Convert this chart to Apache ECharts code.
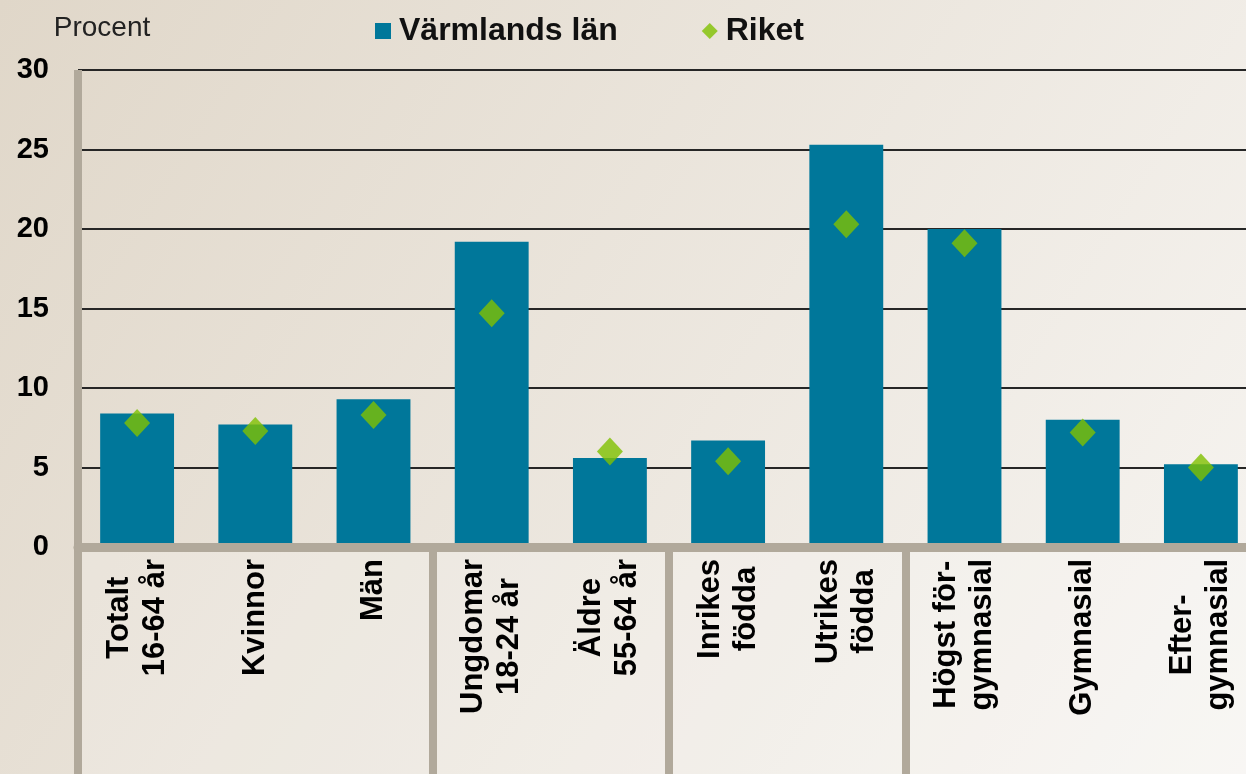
<!DOCTYPE html>
<html>
<head>
<meta charset="utf-8">
<script src="https://cdn.jsdelivr.net/npm/echarts@6/dist/echarts.min.js"></script>
<style>
html, body { margin: 0; padding: 0; }
#chart { width: 1246px; height: 774px; }
</style>
</head>
<body>
<div id="chart"></div>
<script>
// kategorier (radbrytning = två rader i etiketten)
var categories = ['Totalt\n16-64 år', 'Kvinnor', 'Män', 'Ungdomar\n18-24 år', 'Äldre\n55-64 år',
    'Inrikes\nfödda', 'Utrikes\nfödda', 'Högst för-\ngymnasial', 'Gymnasial', 'Efter-\ngymnasial'];
var varmland = [8.4, 7.7, 9.3, 19.2, 5.6, 6.7, 25.3, 20.0, 8.0, 5.2];
var riket = [7.8, 7.3, 8.3, 14.7, 6.0, 5.4, 20.3, 19.1, 7.2, 5.0];
var yTicks = [0, 5, 10, 15, 20, 25, 30];
var groupStarts = [3, 5, 7]; // avdelare mellan grupperna

var FONT = 'Liberation Sans, Arial, sans-serif';
var GREY = '#b1a99b';

var myChart = echarts.init(document.getElementById('chart'));

option = {
    backgroundColor: new echarts.graphic.LinearGradient(0, 0, 1, 1, [
        { offset: 0, color: '#e0d7c9' },
        { offset: 1, color: '#f7f5f2' }
    ]),
    legend: {
        left: 370,
        top: 10,
        itemWidth: 16,
        itemHeight: 16,
        itemGap: 84,
        textStyle: {
            fontFamily: FONT,
            fontSize: 32,
            fontWeight: 'bold',
            color: '#111',
            padding: [0, 0, 0, 3]
        },
        data: [
            { name: 'Värmlands län', icon: 'rect', itemStyle: { borderWidth: 0 } },
            { name: 'Riket', icon: 'diamond' }
        ]
    },
    grid: [
        { left: 78, right: -14, top: 70, bottom: 227, outerBoundsMode: 'none' },
        { left: 78, right: -14, top: 547, bottom: 0, outerBoundsMode: 'none',
          show: true, backgroundColor: 'rgba(255,255,255,0.18)', borderWidth: 0 }
    ],
    xAxis: [
        {
            type: 'category',
            gridIndex: 0,
            data: categories,
            z: 5,
            axisLine: { lineStyle: { color: GREY, width: 9 } },
            axisTick: { show: false },
            axisLabel: {
                interval: 0,
                rotate: 90,
                margin: 12,
                formatter: function (v) {
                    return v.split('\n').map(function (s) { return '{c|' + s + '}'; }).join('\n');
                },
                rich: {
                    c: {
                        align: 'center',
                        fontFamily: FONT,
                        fontSize: 31,
                        fontWeight: 'bold',
                        color: '#000',
                        lineHeight: 36
                    }
                }
            }
        },
        {
            type: 'category',
            gridIndex: 1,
            data: categories,
            axisLine: { show: false },
            axisTick: { show: false },
            axisLabel: { show: false },
            splitLine: {
                show: true,
                interval: function (i) { return groupStarts.indexOf(i) >= 0; },
                lineStyle: { color: GREY, width: 8 }
            }
        }
    ],
    yAxis: [
        {
            type: 'value',
            gridIndex: 0,
            min: yTicks[0],
            max: yTicks[yTicks.length - 1],
            interval: 5,
            z: 0,
            name: 'Procent',
            nameLocation: 'end',
            nameGap: 28,
            nameTextStyle: {
                fontFamily: FONT,
                fontSize: 28,
                color: '#222',
                align: 'center',
                padding: [0, 0, 0, 48]
            },
            axisLine: { show: true, lineStyle: { color: GREY, width: 8, cap: 'butt' } },
            axisTick: { show: false },
            axisLabel: {
                margin: 29,
                fontFamily: FONT,
                fontSize: 29,
                fontWeight: 'bold',
                color: '#000'
            },
            splitLine: { lineStyle: { color: '#262626', width: 2 } }
        },
        {
            type: 'value',
            gridIndex: 1,
            axisLine: { show: true, lineStyle: { color: GREY, width: 8 } },
            axisTick: { show: false },
            axisLabel: { show: false },
            splitLine: { show: false }
        }
    ],
    series: [
        {
            name: 'Värmlands län',
            type: 'bar',
            data: varmland,
            barWidth: '62.5%',
            itemStyle: { color: '#00779a' },
            z: 2
        },
        {
            name: 'Riket',
            type: 'scatter',
            data: riket,
            symbol: 'diamond',
            symbolSize: [26, 28],
            itemStyle: { color: '#80c000' },
            z: 3
        }
    ]
};
myChart.setOption(option);
</script>
</body>
</html>
